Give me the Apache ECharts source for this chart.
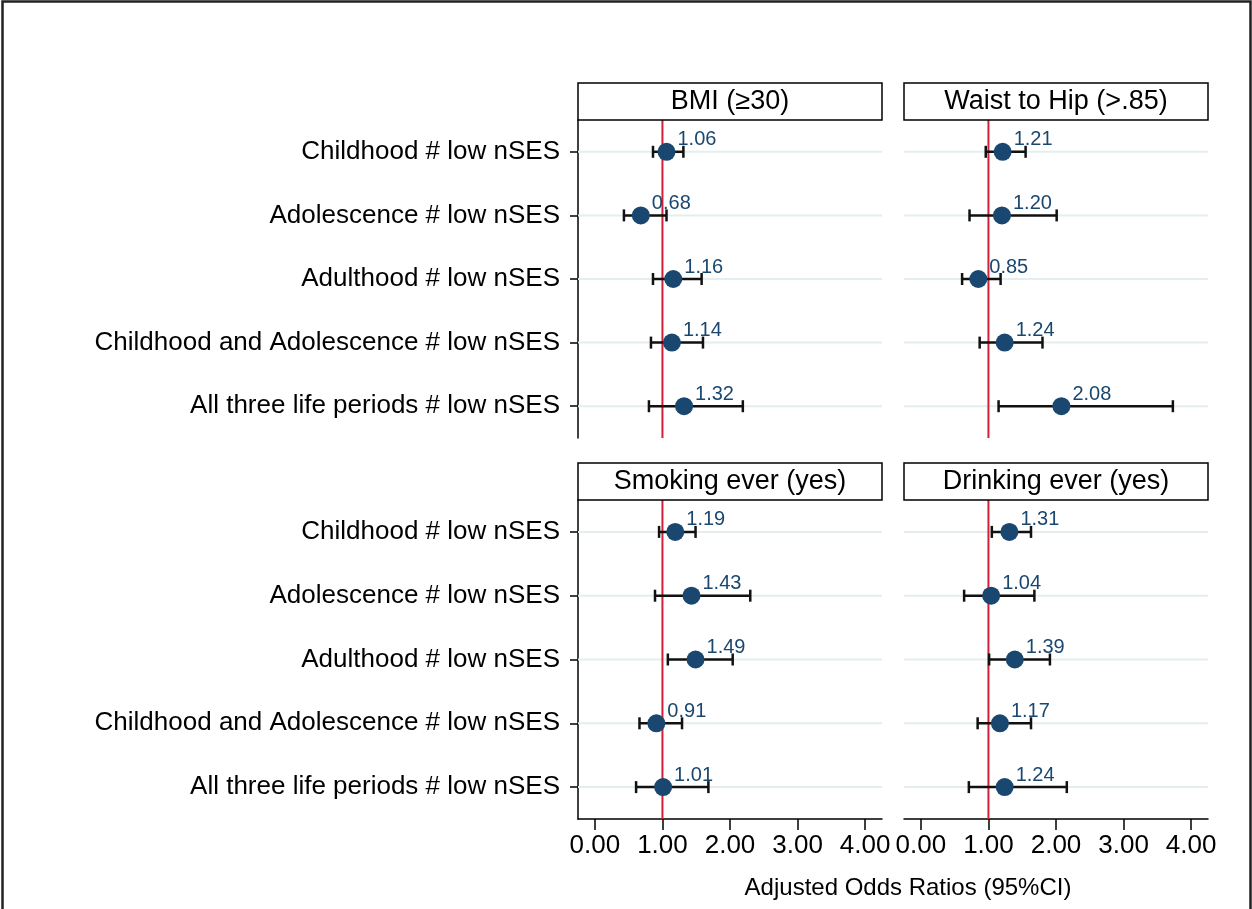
<!DOCTYPE html>
<html>
<head>
<meta charset="utf-8">
<title>Adjusted Odds Ratios</title>
<script src="https://cdn.jsdelivr.net/npm/echarts@6/dist/echarts.min.js"></script>
<style>
html, body { margin: 0; padding: 0; background: #fff; }
#chart { width: 1252px; height: 909px; }
</style>
</head>
<body>
<div id="chart"></div>
<script>
// row labels, top to bottom
var categories = [
    'Childhood # low nSES',
    'Adolescence # low nSES',
    'Adulthood # low nSES',
    'Childhood and Adolescence # low nSES',
    'All three life periods # low nSES'
];
var xTicks = [0, 1, 2, 3, 4];
var refValue = 1;

var panelTitles = ['BMI (≥30)', 'Waist to Hip (>.85)', 'Smoking ever (yes)', 'Drinking ever (yes)'];

// odds ratio, lower and upper CI
var bmiOR = [1.06, 0.68, 1.16, 1.14, 1.32];
var bmiLo = [0.86, 0.43, 0.86, 0.83, 0.80];
var bmiHi = [1.31, 1.06, 1.58, 1.60, 2.19];

var whrOR = [1.21, 1.20, 0.85, 1.24, 2.08];
var whrLo = [0.96, 0.72, 0.61, 0.87, 1.15];
var whrHi = [1.55, 2.01, 1.18, 1.80, 3.73];

var smokeOR = [1.19, 1.43, 1.49, 0.91, 1.01];
var smokeLo = [0.95, 0.89, 1.08, 0.66, 0.61];
var smokeHi = [1.49, 2.30, 2.04, 1.29, 1.68];

var drinkOR = [1.31, 1.04, 1.39, 1.17, 1.24];
var drinkLo = [1.05, 0.64, 1.01, 0.84, 0.71];
var drinkHi = [1.63, 1.68, 1.91, 1.63, 2.16];

var panelData = [
    [bmiOR, bmiLo, bmiHi],
    [whrOR, whrLo, whrHi],
    [smokeOR, smokeLo, smokeHi],
    [drinkOR, drinkLo, drinkHi]
];

var FONT = '"Liberation Sans", Arial, Helvetica, sans-serif';
var NAVY = '#1a476f';

// panel boxes: tl, tr, bl, br
var boxes = [
    { left: 578, top: 120, width: 304, height: 318 },
    { left: 904, top: 120, width: 304, height: 318 },
    { left: 578, top: 500, width: 304, height: 319 },
    { left: 904, top: 500, width: 304, height: 319 }
];

function renderGridLine(params, api) {
    var p = api.coord([0, api.value(0)]);
    var cs = params.coordSys;
    return {
        type: 'line',
        silent: true,
        shape: { x1: cs.x, y1: p[1], x2: cs.x + cs.width, y2: p[1] },
        style: { stroke: '#e4eef0', lineWidth: 2 }
    };
}

function renderRef(params, api) {
    var p = api.coord([api.value(0), 0]);
    var cs = params.coordSys;
    return {
        type: 'line',
        silent: true,
        shape: { x1: p[0], y1: cs.y, x2: p[0], y2: cs.y + cs.height },
        style: { stroke: '#d31f3a', lineWidth: 2 }
    };
}

function renderCI(params, api) {
    var a = api.coord([api.value(0), api.value(2)]);
    var b = api.coord([api.value(1), api.value(2)]);
    var h = 6;
    var st = { stroke: '#111', lineWidth: 2.5 };
    return {
        type: 'group',
        children: [
            { type: 'line', shape: { x1: a[0], y1: a[1], x2: b[0], y2: b[1] }, style: st },
            { type: 'line', shape: { x1: a[0], y1: a[1] - h, x2: a[0], y2: a[1] + h }, style: st },
            { type: 'line', shape: { x1: b[0], y1: b[1] - h, x2: b[0], y2: b[1] + h }, style: st }
        ]
    };
}

var grids = [], xAxes = [], yAxes = [], series = [], graphics = [];

boxes.forEach(function (b, i) {
    var isLeft = (i % 2 === 0);
    var isBottom = (i >= 2);
    grids.push({
        left: b.left, top: b.top, width: b.width, height: b.height,
        containLabel: false, outerBoundsMode: 'none'
    });
    xAxes.push({
        type: 'value', gridIndex: i, min: -0.25, max: 4.25,
        axisLine: { show: isBottom, onZero: false, lineStyle: { color: '#000', width: 1.5 } },
        axisTick: { show: isBottom, customValues: xTicks, length: 11, lineStyle: { color: '#000', width: 1.5 } },
        axisLabel: {
            show: isBottom, customValues: xTicks, margin: 14,
            fontSize: 26, fontFamily: FONT, color: '#000',
            formatter: function (v) { return v.toFixed(2); }
        },
        splitLine: { show: false }
    });
    yAxes.push({
        type: 'category', gridIndex: i, data: categories, inverse: true, boundaryGap: true,
        axisLine: { show: isLeft, onZero: false, lineStyle: { color: '#000', width: 1.5 } },
        axisTick: { show: isLeft, alignWithLabel: true, length: 8, lineStyle: { color: '#000', width: 1.5 } },
        axisLabel: { show: isLeft, margin: 18, fontSize: 26, fontFamily: FONT, color: '#000' },
        splitLine: { show: false }
    });

    var d = panelData[i];
    series.push({
        type: 'custom', xAxisIndex: i, yAxisIndex: i, z: 1, silent: true,
        renderItem: renderGridLine,
        encode: { y: 0 },
        data: categories.map(function (c) { return [c]; })
    });
    series.push({
        type: 'custom', xAxisIndex: i, yAxisIndex: i, z: 2, silent: true,
        renderItem: renderRef,
        encode: { x: 0 },
        data: [[refValue]]
    });
    series.push({
        type: 'custom', xAxisIndex: i, yAxisIndex: i, z: 3, silent: true,
        renderItem: renderCI,
        encode: { x: [0, 1], y: 2 },
        data: categories.map(function (c, k) { return [d[1][k], d[2][k], c]; })
    });
    series.push({
        type: 'scatter', xAxisIndex: i, yAxisIndex: i, z: 4, silent: true,
        symbol: 'circle', symbolSize: 18,
        itemStyle: { color: NAVY, opacity: 1 },
        label: {
            show: true, position: 'right', distance: 2, offset: [0, -12],
            fontSize: 20, fontFamily: FONT, color: NAVY,
            formatter: function (p) { return p.value[0].toFixed(2); }
        },
        data: categories.map(function (c, k) { return [d[0][k], c]; })
    });

    // strip title box above each panel
    graphics.push({
        type: 'rect', z: 10,
        shape: { x: b.left, y: b.top - 37, width: b.width, height: 37 },
        style: { fill: '#fff', stroke: '#000', lineWidth: 1.5 }
    });
    graphics.push({
        type: 'text', z: 11, x: b.left + b.width / 2, y: b.top - 18,
        style: {
            text: panelTitles[i], fill: '#000', font: '27px ' + FONT,
            textAlign: 'center', textVerticalAlign: 'middle'
        }
    });
});

graphics.push({
    type: 'text', x: 908, y: 888,
    style: {
        text: 'Adjusted Odds Ratios (95%CI)', fill: '#000', font: '24px ' + FONT,
        textAlign: 'center', textVerticalAlign: 'middle'
    }
});
// outer frame
graphics.push({
    type: 'rect', z: 20, silent: true,
    shape: { x: 2.5, y: 1.5, width: 1248, height: 1000 },
    style: { fill: null, stroke: '#222', lineWidth: 2.5 }
});

var chart = echarts.init(document.getElementById('chart'), null, { renderer: 'canvas' });
chart.setOption({
    backgroundColor: '#fff',
    animation: false,
    grid: grids,
    xAxis: xAxes,
    yAxis: yAxes,
    series: series,
    graphic: graphics
});
</script>
</body>
</html>
